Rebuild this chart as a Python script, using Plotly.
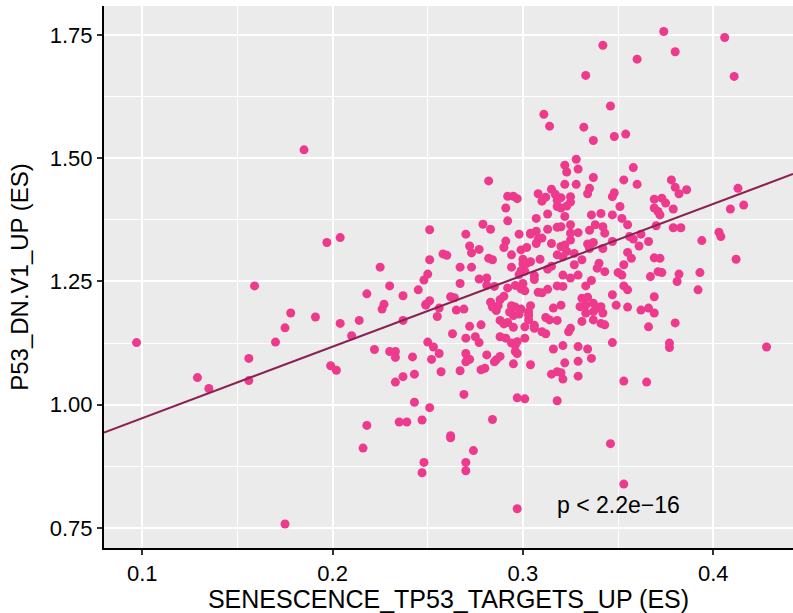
import numpy as np
import plotly.graph_objects as go

# Enrichment scores (ES) per sample
senescence_es = [
    0.185, 0.197, 0.159, 0.097, 0.178, 0.175, 0.191, 0.170, 0.156, 0.129,
    0.135, 0.156, 0.199, 0.175, 0.204, 0.251, 0.225, 0.230, 0.251, 0.258,
    0.260, 0.250, 0.248, 0.267, 0.267, 0.245,
    0.218, 0.237, 0.227, 0.226, 0.251, 0.249, 0.249, 0.262, 0.264, 0.265,
    0.256, 0.255, 0.204, 0.214, 0.237, 0.210, 0.263, 0.222, 0.230, 0.233,
    0.233, 0.242, 0.250, 0.253, 0.256, 0.252, 0.202, 0.257, 0.267, 0.237,
    0.233, 0.243, 0.243, 0.251, 0.218, 0.235, 0.239, 0.247, 0.262, 0.262,
    0.216, 0.248, 0.247,
    0.311, 0.314, 0.282, 0.292, 0.295, 0.297, 0.291, 0.308, 0.315, 0.317,
    0.312, 0.310, 0.318, 0.318, 0.307, 0.313, 0.292,
    0.279, 0.283, 0.304, 0.307, 0.304, 0.313, 0.318, 0.270, 0.298, 0.308,
    0.310, 0.307, 0.291, 0.290, 0.272, 0.273, 0.277, 0.302, 0.299, 0.315,
    0.282, 0.284, 0.294, 0.300, 0.302, 0.304, 0.300, 0.309, 0.318, 0.273,
    0.294, 0.299, 0.301, 0.298, 0.313, 0.315, 0.306, 0.306, 0.277, 0.281,
    0.281, 0.285, 0.296, 0.300, 0.299, 0.301, 0.292, 0.313, 0.310, 0.308,
    0.318, 0.290, 0.288, 0.283, 0.284, 0.286, 0.287, 0.269, 0.294, 0.296,
    0.293, 0.295, 0.304, 0.303, 0.303, 0.299, 0.298, 0.316, 0.312, 0.290,
    0.292, 0.288, 0.278, 0.272, 0.306, 0.318, 0.295,
    0.301, 0.303, 0.306, 0.310, 0.312, 0.314, 0.270, 0.275, 0.277, 0.288,
    0.291, 0.294, 0.296, 0.297, 0.301, 0.296, 0.297, 0.270, 0.271, 0.270,
    0.272, 0.281, 0.286, 0.288, 0.285, 0.278, 0.280, 0.295, 0.304, 0.316,
    0.315, 0.318, 0.269, 0.297, 0.301, 0.318, 0.284, 0.274, 0.270, 0.270,
    0.297,
    0.342, 0.360, 0.333, 0.346, 0.332, 0.337, 0.348, 0.354, 0.328, 0.322,
    0.323, 0.329, 0.337, 0.358, 0.353, 0.360, 0.322, 0.328, 0.335, 0.334,
    0.348, 0.347, 0.320, 0.325, 0.325, 0.323, 0.320, 0.351, 0.369, 0.369,
    0.371, 0.336, 0.341, 0.347, 0.352, 0.322,
    0.338, 0.355, 0.325, 0.325, 0.329, 0.320, 0.335, 0.342, 0.343, 0.356,
    0.362, 0.358, 0.366, 0.370, 0.325, 0.334, 0.337, 0.335, 0.347, 0.361,
    0.320, 0.322, 0.323, 0.321, 0.327, 0.331, 0.342, 0.355, 0.357, 0.369,
    0.340, 0.339, 0.327, 0.321, 0.325, 0.329, 0.343, 0.350, 0.352, 0.353,
    0.367, 0.371, 0.336, 0.333, 0.321, 0.353, 0.355, 0.347, 0.369, 0.331,
    0.334, 0.333, 0.330, 0.337, 0.339, 0.337, 0.341, 0.342, 0.349, 0.355,
    0.320, 0.362, 0.366, 0.343, 0.333, 0.331, 0.325, 0.366, 0.369, 0.337,
    0.341,
    0.324, 0.321, 0.329, 0.334, 0.336, 0.347, 0.322, 0.329, 0.320, 0.321,
    0.329, 0.353, 0.365, 0.346, 0.353,
    0.374, 0.406, 0.380, 0.411, 0.378, 0.380, 0.382, 0.386, 0.373, 0.375,
    0.379, 0.372, 0.413, 0.409, 0.416, 0.379, 0.383, 0.403, 0.404, 0.394,
    0.412, 0.372, 0.373, 0.382, 0.381, 0.393, 0.392,
    0.380, 0.377, 0.377, 0.428,
]

p53_es = [
    1.517, 1.329, 1.241, 1.126, 1.186, 1.156, 1.178, 1.127, 1.094, 1.055,
    1.033, 1.049, 1.079, 0.758, 1.339, 1.355, 1.279, 1.241, 1.294, 1.306,
    1.303, 1.265, 1.253, 1.279, 1.246, 1.233,
    1.225, 1.221, 1.204, 1.194, 1.211, 1.204, 1.202, 1.219, 1.217, 1.192,
    1.196, 1.179, 1.165, 1.171, 1.171, 1.140, 1.144, 1.112, 1.108, 1.108,
    1.096, 1.097, 1.127, 1.117, 1.104, 1.092, 1.070, 1.067, 1.069, 1.057,
    1.046, 1.062, 1.005, 0.994, 0.958, 0.965, 0.965, 0.969, 0.937, 0.933,
    0.912, 0.883, 0.862,
    1.589, 1.565, 1.454, 1.423, 1.423, 1.418, 1.399, 1.428, 1.437, 1.427,
    1.421, 1.413, 1.415, 1.402, 1.378, 1.387, 1.373,
    1.366, 1.356, 1.348, 1.352, 1.346, 1.356, 1.360, 1.346, 1.346, 1.336,
    1.338, 1.327, 1.332, 1.319, 1.322, 1.308, 1.315, 1.319, 1.314, 1.327,
    1.297, 1.294, 1.304, 1.295, 1.287, 1.290, 1.286, 1.295, 1.304, 1.279,
    1.279, 1.272, 1.271, 1.264, 1.275, 1.281, 1.262, 1.254, 1.255, 1.257,
    1.242, 1.240, 1.242, 1.246, 1.235, 1.231, 1.237, 1.234, 1.227, 1.228,
    1.241, 1.220, 1.213, 1.208, 1.198, 1.191, 1.201, 1.194, 1.201, 1.198,
    1.188, 1.181, 1.201, 1.188, 1.181, 1.194, 1.184, 1.196, 1.177, 1.164,
    1.167, 1.171, 1.162, 1.159, 1.161, 1.171, 1.157,
    1.158, 1.172, 1.155, 1.148, 1.144, 1.172, 1.135, 1.138, 1.126, 1.138,
    1.135, 1.125, 1.121, 1.128, 1.135, 1.108, 1.104, 1.104, 1.094, 1.087,
    1.092, 1.101, 1.091, 1.098, 1.087, 1.071, 1.074, 1.083, 1.081, 1.113,
    1.062, 1.067, 1.021, 1.014, 1.012, 1.008, 0.970, 0.907, 0.883, 0.866,
    0.789,
    1.729, 1.701, 1.668, 1.606, 1.563, 1.536, 1.544, 1.549, 1.498, 1.486,
    1.472, 1.478, 1.461, 1.481, 1.456, 1.447, 1.447, 1.447, 1.439, 1.428,
    1.430, 1.422, 1.420, 1.422, 1.411, 1.403, 1.399, 1.402, 1.417, 1.399,
    1.392, 1.385, 1.388, 1.385, 1.378, 1.382,
    1.365, 1.365, 1.365, 1.348, 1.349, 1.361, 1.354, 1.361, 1.348, 1.341,
    1.346, 1.336, 1.331, 1.363, 1.334, 1.326, 1.329, 1.317, 1.331, 1.322,
    1.321, 1.324, 1.311, 1.300, 1.307, 1.294, 1.317, 1.309, 1.297, 1.298,
    1.287, 1.277, 1.284, 1.263, 1.257, 1.263, 1.270, 1.268, 1.263, 1.284,
    1.260, 1.270, 1.252, 1.241, 1.240, 1.241, 1.233, 1.223, 1.219, 1.216,
    1.218, 1.202, 1.199, 1.206, 1.196, 1.189, 1.199, 1.186, 1.202, 1.198,
    1.202, 1.192, 1.196, 1.162, 1.186, 1.169, 1.155, 1.158, 1.186, 1.172,
    1.165,
    1.148, 1.120, 1.118, 1.113, 1.094, 1.126, 1.085, 1.088, 1.065, 1.052,
    1.058, 1.048, 1.046, 0.921, 0.839,
    1.757, 1.745, 1.716, 1.666, 1.456, 1.441, 1.428, 1.436, 1.419, 1.409,
    1.397, 1.385, 1.439, 1.397, 1.405, 1.359, 1.359, 1.350, 1.341, 1.333,
    1.295, 1.297, 1.268, 1.265, 1.250, 1.268, 1.233,
    1.166, 1.125, 1.116, 1.117,
]

# Linear model coefficients (ES_P53 ~ ES_SENESCENCE) over the full cohort
fit_intercept = 0.828
fit_slope = 1.4485

x_ticks = [0.1, 0.2, 0.3, 0.4]
y_ticks = [0.75, 1.00, 1.25, 1.50, 1.75]
x_range = [0.0799, 0.4419]
y_range = [0.7094, 1.8088]
p_label = "p < 2.2e\u221216"

x = np.array(senescence_es)
y = np.array(p53_es)

# Regression line drawn across the full axis range
fit_x = np.array(x_range)
fit_y = fit_intercept + fit_slope * fit_x

FONT = "Liberation Sans, Arial, sans-serif"

fig = go.Figure()
fig.add_trace(go.Scatter(
    x=x, y=y, mode="markers",
    marker=dict(size=9, color="#EE3A8C", line=dict(width=0)),
    hoverinfo="x+y", showlegend=False,
))
fig.add_trace(go.Scatter(
    x=fit_x, y=fit_y, mode="lines",
    line=dict(color="#8B2252", width=2),
    hoverinfo="skip", showlegend=False,
))

fig.add_annotation(
    x=0.35, y=0.797, text=p_label, showarrow=False,
    font=dict(family=FONT, size=23, color="black"),
    xanchor="center", yanchor="middle",
)

axis_common = dict(
    showgrid=True, gridcolor="white", gridwidth=2,
    zeroline=False,
    showline=True, linecolor="black", linewidth=2,
    ticks="outside", ticklen=5, tickwidth=1.5, tickcolor="#333333",
    tickfont=dict(family=FONT, size=22, color="black"),
    mirror=False,
)

fig.update_xaxes(
    **axis_common,
    range=x_range, tickvals=x_ticks,
    ticktext=[f"{v:g}" for v in x_ticks],
    minor=dict(dtick=0.05, tick0=0.05, showgrid=True, gridcolor="white", gridwidth=1),
    title_text="SENESCENCE_TP53_TARGETS_UP (ES)", title_standoff=3,
    title_font=dict(family=FONT, size=25, color="black"),
)
fig.update_yaxes(
    **axis_common,
    range=y_range, tickvals=y_ticks,
    ticktext=[f"{v:.2f}" for v in y_ticks],
    minor=dict(dtick=0.125, tick0=0.625, showgrid=True, gridcolor="white", gridwidth=1),
    title_text="P53_DN.V1_UP (ES)", title_standoff=14,
    title_font=dict(family=FONT, size=24, color="black"),
)

fig.update_layout(
    width=793, height=613,
    margin=dict(l=104, r=0, t=6, b=65),
    plot_bgcolor="#EBEBEB", paper_bgcolor="white",
)

fig.write_html("out.html")
